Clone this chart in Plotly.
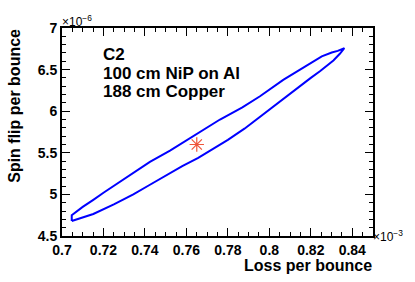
import plotly.graph_objects as go

# Contour (x in units of 1e-3, y in units of 1e-6), closed loop
contour_x = [0.7047, 0.7127, 0.7151, 0.7250, 0.7344, 0.7420, 0.7497, 0.7580, 0.7657, 0.7730,
             0.7800, 0.7880, 0.7950, 0.8050, 0.8148, 0.8200, 0.8244, 0.8280, 0.8309, 0.8340, 0.8362,
             0.8330, 0.8301, 0.8253, 0.8160, 0.8067, 0.7955, 0.7870, 0.7762, 0.7640, 0.7521,
             0.7424, 0.7300, 0.7200, 0.7151, 0.7100, 0.7047, 0.7047]
contour_y = [4.680, 4.740, 4.765, 4.880, 5.000, 5.110, 5.225, 5.340, 5.440, 5.545,
             5.655, 5.790, 5.925, 6.120, 6.310, 6.400, 6.480, 6.550, 6.610, 6.690, 6.757,
             6.725, 6.705, 6.660, 6.520, 6.377, 6.180, 6.045, 5.900, 5.710, 5.525,
             5.390, 5.190, 5.020, 4.935, 4.850, 4.750, 4.680]

best_x = [0.765]
best_y = [5.60]

x_tickvals = [0.70, 0.72, 0.74, 0.76, 0.78, 0.80, 0.82, 0.84]
x_ticktext = ["0.7", "0.72", "0.74", "0.76", "0.78", "0.8", "0.82", "0.84"]
y_tickvals = [4.5, 5.0, 5.5, 6.0, 6.5, 7.0]
y_ticktext = ["4.5", "5", "5.5", "6", "6.5", "7"]

label_lines = ["C2", "100 cm NiP on Al", "188 cm Copper"]

FONT = "Liberation Sans"

fig = go.Figure()
fig.add_trace(go.Scatter(x=contour_x, y=contour_y, mode="lines",
                         line=dict(color="#0000ff", width=2), showlegend=False,
                         hoverinfo="skip"))
fig.add_trace(go.Scatter(x=best_x, y=best_y, mode="markers",
                         marker=dict(symbol="asterisk-open", size=12,
                                     line=dict(color="#ff0000", width=1.2)),
                         showlegend=False))

axis_common = dict(showgrid=False, zeroline=False, showline=True, linecolor="black",
                   linewidth=2, ticks="inside", ticklen=8, tickwidth=1.3, tickcolor="black",
                   mirror="ticks",
                   tickfont=dict(family=FONT, size=14, color="black", weight=700))

fig.update_xaxes(range=[0.7, 0.85], tickvals=x_tickvals,
                 ticktext=[f"<b>{t}</b>" for t in x_ticktext],
                 minor=dict(ticks="inside", ticklen=4, tickwidth=1.3, dtick=0.005,
                            tickcolor="black", showgrid=False),
                 **axis_common)
fig.update_yaxes(range=[4.5, 7.0], tickvals=y_tickvals,
                 ticktext=[f"<b>{t}</b>" for t in y_ticktext],
                 minor=dict(ticks="inside", ticklen=4, tickwidth=1.3, dtick=0.1,
                            tickcolor="black", showgrid=False),
                 **axis_common)

annotations = []
for i, line in enumerate(label_lines):
    annotations.append(dict(x=0.13, y=0.922 - i * 0.0895, xref="paper", yref="paper",
                            text=f"<b>{line}</b>", showarrow=False, xanchor="left", yanchor="top",
                            borderpad=0,
                            font=dict(family=FONT, size=17, color="black")))
annotations.append(dict(x=1.0, y=-0.095, xref="paper", yref="paper", text="<b>Loss per bounce</b>",
                        showarrow=False, xanchor="right", yanchor="top", borderpad=0,
                        font=dict(family=FONT, size=16, color="black")))
annotations.append(dict(x=-0.155, y=1.0, xref="paper", yref="paper",
                        text="<b>Spin flip per bounce</b>", borderpad=0,
                        showarrow=False, xanchor="center", yanchor="top", textangle=-90,
                        font=dict(family=FONT, size=16, color="black")))
annotations.append(dict(x=-0.005, y=1.0, xref="paper", yref="paper", text="×10<sup>−6</sup>",
                        showarrow=False, xanchor="left", yanchor="bottom", yshift=-3,
                        font=dict(family=FONT, size=12, color="black")))
annotations.append(dict(x=1.0, y=0.0, xref="paper", yref="paper", text="×10<sup>−3</sup>",
                        showarrow=False, xanchor="left", yanchor="middle", xshift=-2,
                        font=dict(family=FONT, size=12, color="black")))

fig.update_layout(width=415, height=282, margin=dict(l=62, r=42, t=28, b=46),
                  plot_bgcolor="white", paper_bgcolor="white",
                  annotations=annotations)

fig.write_html("out.html", config={"displayModeBar": False},
               post_script="document.body.style.margin='0';")
